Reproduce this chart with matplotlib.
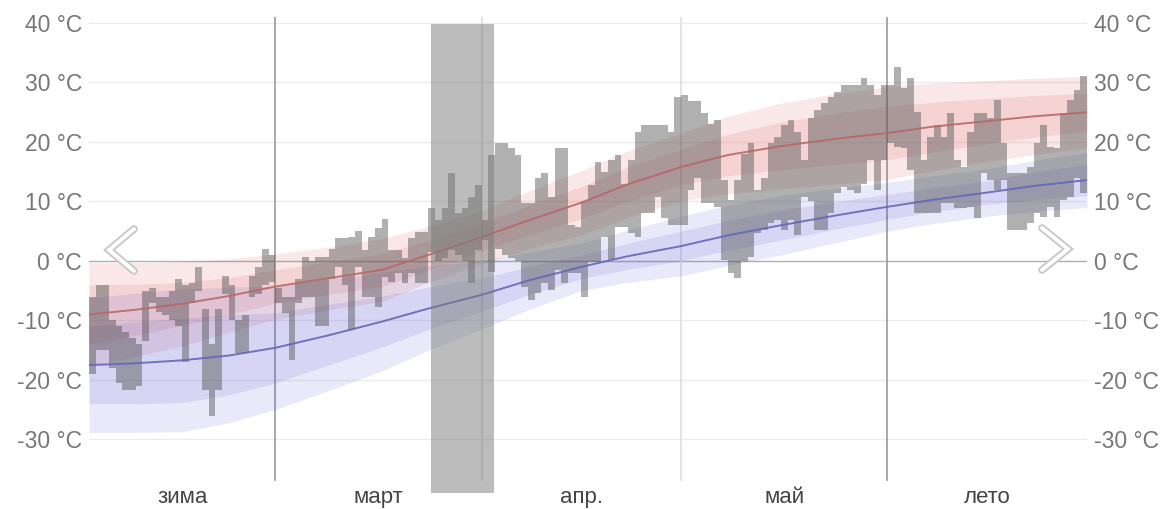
import matplotlib
matplotlib.use('Agg')
import matplotlib.pyplot as plt
import numpy as np
from matplotlib.lines import Line2D

# daily max / min, 1 Feb .. 30 Jun (one value per day)
t_max = [
    -6, -4, -4, -10, -11, -12, -13, -14, -5, -4.5, -6, -6, -5, -3, -4, -3.7, -1, -8, -14, -8,
    -2.5, -4, -10, -9, -2.5, -1, 2, 1,
    # march
    -4.5, -6, -6, -3, 0.7, 0, 0.7, 0.7, 2, 3.9, 3.9, 4, 5, 1.8, 4, 5.5, 7, 1.8, 1.8, 0.5,
    3.9, 4.9, 4.9, 8.9, 6.9, 8.9, 14.8, 8, 8.9, 10.8, 12.8,
    # april
    6.9, 17.8, 19.8, 19.8, 19, 17.8, 9.7, 9.7, 14, 14.8, 10.8, 19, 19, 6, 5.7, 10, 12.8,
    16.6, 15, 17, 17.8, 13, 17, 21.7, 22.8, 22.8, 22.8, 22.8, 21.7, 27.6,
    # may
    27.9, 26.8, 26.8, 24.8, 23, 23.7, 13.6, 10.3, 13.6, 18, 19.8, 12, 14, 19.8, 20.8, 22.8,
    23.7, 21.7, 17, 24, 25.4, 26.5, 27.6, 28.4, 29.6, 29.6, 29.6, 30.8, 29.6, 27.9, 29.6,
    # june
    29.6, 32.6, 29, 30.8, 25, 17, 20.8, 22.8, 20.8, 24.8, 17, 15.8, 21.7, 24.8, 24.8, 24,
    27, 19.8, 14.8, 14.8, 14.8, 15.8, 19.8, 22.8, 19.2, 19, 24.8, 27, 28.7, 31,
]
t_min = [
    -19, -15, -15, -18, -20.5, -21.7, -21.7, -21, -13.5, -7, -8.5, -9, -10, -11, -17, -7, -5,
    -21.7, -26, -21.7, -5.5, -10, -15.5, -15.5, -6, -5.5, -4, -3.5,
    # march
    -7, -8.8, -16.6, -7, -6, -6, -11, -11, -3, -1, -4, -11.6, -1, -6, -6, -7.7, -2.7, -3.5,
    -2, -3.7, -2, -3.7, -3.7, 1.5, 0, 0.5, 1.8, 1, 0, -3.7, 1.8,
    # april
    3.5, -1.8, 2, 1, 0.5, 0, -4.3, -6.5, -5.4, -3.7, -4.9, -1.5, -3.7, -2, -2, -6, -0.2,
    -0.2, 4, 0.2, 5.7, 5.7, 4.7, 4, 8, 8, 10.8, 7.3, 6, 6,
    # may
    6, 12, 14, 9.7, 9.7, 9, 0.2, -2, -2.9, 0, 0.7, 4.7, 5.2, 6.4, 6.9, 5.2, 6.9, 4.4, 10.8,
    10, 5.2, 5.2, 8, 11.4, 12.4, 12, 11.4, 13, 17, 12, 17,
    # june
    19.8, 19.2, 19, 15.3, 8, 8, 8, 8, 9.7, 9.7, 8.9, 8.9, 9, 7.2, 14.8, 13.6, 12, 13.6, 5.2,
    5.2, 5.2, 6.4, 8, 7.4, 9, 7.4, 10.3, 10.8, 14, 11.4,
]

# climate normals, read about once a week (day index from 1 Feb)
norm_days = [0, 7, 14, 21, 28, 36, 44, 51, 59, 66, 74, 81, 89, 96, 104, 112, 120, 127, 135, 142, 150]
max_mean = [-9, -8.2, -7.2, -5.9, -4.3, -2.9, -1.5, 1, 4, 6.8, 9.8, 12.9, 15.8, 17.8, 19.3,
            20.5, 21.5, 22.6, 23.5, 24.3, 25]
max_p90 = [-0.3, -0.3, -0.1, 0.3, 1.2, 2.3, 3.8, 5.8, 8.5, 11.7, 15.2, 18.5, 21.5, 24.3, 26.5,
           28.1, 29.3, 29.9, 30.3, 30.7, 31]
max_p75 = [-4, -3.9, -3.6, -2.8, -1.5, -0.2, 1.3, 3.4, 6.3, 9.3, 12.5, 15.8, 18.8, 21.3, 23.3,
           24.8, 26, 26.7, 27.3, 27.8, 28.2]
max_p25 = [-14, -12.5, -10.8, -9.0, -7.1, -5.6, -4.3, -1.6, 1.7, 4.3, 7.1, 10.0, 12.8, 14.3,
           15.3, 16.2, 17, 18.3, 19.7, 20.8, 21.8]
max_p10 = [-17.7, -16.0, -14.3, -12.0, -9.8, -8.2, -6.8, -3.6, -0.5, 2.0, 4.4, 7.3, 10.1, 11.3,
           12.1, 12.9, 13.7, 15.2, 16.7, 17.9, 19]
min_mean = [-17.5, -17.2, -16.7, -15.9, -14.6, -12.5, -10.2, -8.0, -5.7, -3.3, -1.0, 0.8, 2.5,
            4.3, 6.0, 7.6, 9.1, 10.3, 11.5, 12.6, 13.6]
min_p90 = [-6.2, -5.4, -4.7, -4.4, -4.2, -3.0, -1.9, -0.9, 0.1, 1.4, 3.0, 5.2, 7.5, 9.4, 11.0,
           12.2, 13.2, 14.3, 15.5, 16.9, 18.2]
min_p75 = [-11.0, -10.2, -9.6, -9.1, -8.7, -7.3, -5.9, -4.4, -2.9, -1.0, 1.0, 3.0, 5.0, 6.8,
           8.5, 9.9, 11.2, 12.3, 13.5, 14.9, 16.2]
min_p25 = [-24.0, -24.0, -23.8, -22.5, -20.5, -17.5, -14.5, -11.5, -8.5, -5.7, -3.0, -1.4, 0.0,
           1.8, 3.5, 5.3, 7.0, 8.3, 9.5, 10.3, 11.0]
min_p10 = [-28.8, -28.8, -28.7, -27.2, -25.0, -21.8, -18.5, -15.0, -11.5, -8.2, -5.0, -3.6,
           -2.5, -0.8, 1.0, 3.0, 5.0, 6.3, 7.5, 8.3, 9.0]

month_starts = [28, 59, 89, 120]
season_start = [True, False, False, True]
month_mid = [14, 43.5, 74, 104.5, 135]
month_names = ['зима', 'март', 'апр.', 'май', 'лето']
week_span = (51.4, 60.9)
yticks = [-30, -20, -10, 0, 10, 20, 30, 40]

plt.rcParams['font.family'] = ['Liberation Sans', 'DejaVu Sans']

fig = plt.figure(figsize=(11.7, 5.09), dpi=100)
ax = fig.add_axes([89 / 1170, 16 / 509, 998 / 1170, 476 / 509])
ax.set_xlim(0, 150)
ax.set_ylim(-39, 41)

# grid
for v in yticks:
    ax.axhline(v, color='#b0b0b0' if v == 0 else '#ececec', lw=1, zorder=0)
for d, dark in zip(month_starts, season_start):
    ax.axvline(d, ymin=(-36.8 + 39) / 80, ymax=1, color='#9a9a9a' if dark else '#dedede',
               lw=1.2, zorder=0.5)

# normal bands
ax.fill_between(norm_days, max_p10, max_p90, color=(0.86, 0.3, 0.3), alpha=0.13, lw=0, zorder=1)
ax.fill_between(norm_days, max_p25, max_p75, color=(0.86, 0.3, 0.3), alpha=0.13, lw=0, zorder=1)
ax.fill_between(norm_days, min_p10, min_p90, color=(0.3, 0.3, 0.82), alpha=0.12, lw=0, zorder=1)
ax.fill_between(norm_days, min_p25, min_p75, color=(0.3, 0.3, 0.82), alpha=0.12, lw=0, zorder=1)

# daily bars
days = np.arange(len(t_max))
hi = np.array(t_max)
lo = np.array(t_min)
ax.bar(days + 0.5, hi - lo, bottom=lo, width=1.0, color='#505050', alpha=0.45, lw=0, zorder=2)

# mean lines
ax.plot(norm_days, max_mean, color='#b86868', lw=1.4, alpha=0.9, zorder=3)
ax.plot(norm_days, min_mean, color='#6666b8', lw=1.4, alpha=0.9, zorder=3)

# current week
ax.axvspan(week_span[0], week_span[1], ymin=0, ymax=(39.8 + 39) / 80, color='#7a7a7a',
           alpha=0.5, lw=0, zorder=4)

# axes text
ax.set_yticks(yticks)
ax.set_yticklabels([f'{v} °C' for v in yticks])
ax.tick_params(axis='y', length=0, labelsize=16.5, colors='#777777', pad=5,
               labelleft=True, labelright=True)
ax.set_xticks([])
for s in ax.spines.values():
    s.set_visible(False)

trans = ax.get_xaxis_transform()
for m, name in zip(month_mid, month_names):
    ax.text(m, -0.009, name, transform=trans, ha='center', va='center',
            fontsize=16, color='#444444', clip_on=False)

# navigation arrows
def chevron(pts):
    xs = [p[0] / 1170 for p in pts]
    ys = [1 - p[1] / 509 for p in pts]
    fig.add_artist(Line2D(xs, ys, transform=fig.transFigure, color='#c8c8c8', lw=5.5,
                          solid_capstyle='round', solid_joinstyle='miter', zorder=10))
    fig.add_artist(Line2D(xs, ys, transform=fig.transFigure, color='white', lw=2.8,
                          solid_capstyle='round', solid_joinstyle='miter', zorder=11))

chevron([(134, 229), (109, 250), (134, 271)])
chevron([(1042, 228), (1068, 249), (1042, 270)])

fig.savefig('out.png', dpi=100, facecolor='white')
